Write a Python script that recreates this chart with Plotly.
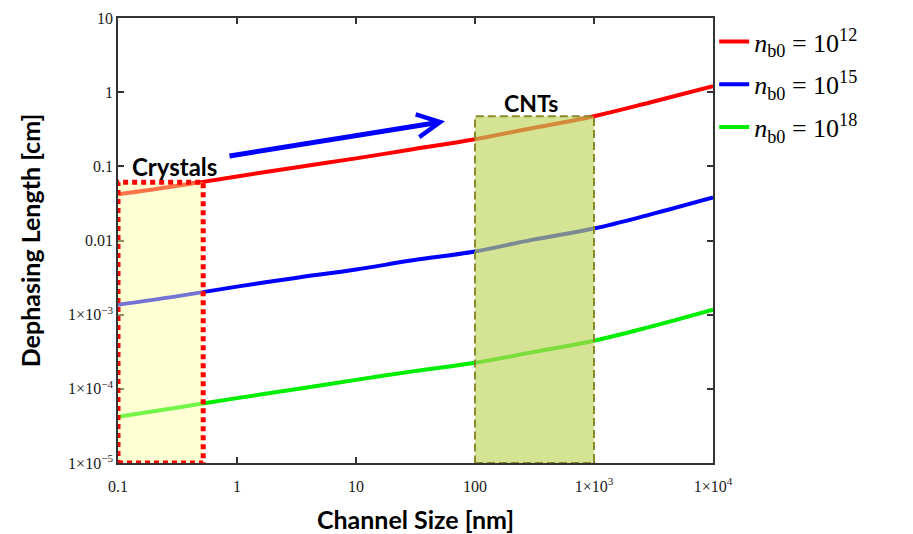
import math
import plotly.graph_objects as go

# ---- data ----
channel_nm = [0.1, 0.3, 1, 3, 10, 30, 100, 300, 1000, 3000, 10000]
len_nb12 = [0.042, 0.054, 0.073, 0.096, 0.128, 0.17, 0.232, 0.326, 0.474, 0.73, 1.2]
len_nb15 = [1.36e-3, 1.75e-3, 2.39e-3, 3.1e-3, 4.06e-3, 5.4e-3, 7.1e-3, 1.02e-2, 1.45e-2, 2.25e-2, 3.8e-2]
len_nb18 = [4.2e-5, 5.5e-5, 7.5e-5, 9.8e-5, 1.32e-4, 1.72e-4, 2.25e-4, 3.1e-4, 4.45e-4, 6.9e-4, 1.17e-3]
series_names = ["<i>n</i><sub>b0</sub> = 10<sup>12</sup>",
                "<i>n</i><sub>b0</sub> = 10<sup>15</sup>",
                "<i>n</i><sub>b0</sub> = 10<sup>18</sup>"]
series_colors = ["#ff0000", "#0000ff", "#00ee00"]

x_tickvals = [0.1, 1, 10, 100, 1000, 10000]
x_ticktext = ["0.1", "1", "10", "100", "1×10<sup>3</sup>", "1×10<sup>4</sup>"]
y_tickvals = [10, 1, 0.1, 0.01, 1e-3, 1e-4, 1e-5]
y_ticktext = ["10", "1", "0.1", "0.01", "1×10<sup>−3</sup>", "1×10<sup>−4</sup>", "1×10<sup>−5</sup>"]

crystals_x = [0.1, 0.52]
crystals_top = 0.061
cnts_x = [100, 1000]
cnts_top = 0.474
y_bottom = 1e-5

fig = go.Figure()
for vals, name, col in zip([len_nb12, len_nb15, len_nb18], series_names, series_colors):
    fig.add_trace(go.Scatter(x=channel_nm, y=vals, mode="lines", name=name,
                             legendgroup=name,
                             line=dict(color=col, width=4, shape="spline")))

# shaded regions
fig.add_shape(type="rect", xref="x", yref="y",
              x0=crystals_x[0], x1=crystals_x[1], y0=y_bottom, y1=crystals_top,
              fillcolor="rgba(255,255,160,0.45)", layer="above",
              line=dict(color="#ff0000", width=5, dash="5px,4px"))
fig.add_shape(type="rect", xref="x", yref="y",
              x0=cnts_x[0], x1=cnts_x[1], y0=y_bottom, y1=cnts_top,
              fillcolor="rgba(190,212,90,0.65)", layer="above",
              line=dict(color="#8a8a2a", width=2, dash="8px,4px"))

lg = math.log10
fig.add_annotation(x=lg(0.3), y=lg(0.1), text="<b>Crystals</b>", showarrow=False,
                   font=dict(family="Lato", size=24, color="black"))
fig.add_annotation(x=lg(295), y=lg(0.72), text="<b>CNTs</b>", showarrow=False,
                   font=dict(family="Lato", size=23, color="black"))
fig.add_annotation(x=lg(56), y=lg(0.405), ax=lg(0.84), ay=lg(0.137),
                   xref="x", yref="y", axref="x", ayref="y", text="",
                   showarrow=True, arrowhead=5, arrowsize=0.9, arrowwidth=5,
                   arrowcolor="#0000ff")

axis_common = dict(type="log", showgrid=False, zeroline=False, showline=True,
                   linecolor="#333333", linewidth=1.5, mirror="ticks",
                   ticks="inside", ticklen=6, tickcolor="#333333", tickwidth=1.5,
                   automargin=False,
                   tickfont=dict(family="Liberation Serif", size=16, color="#1a1a1a"))

fig.update_xaxes(range=[-1, 4], tickvals=x_tickvals, ticktext=x_ticktext,
                 ticklabelstandoff=8,
                 title=dict(text="<b>Channel Size [nm]</b>", standoff=18,
                            font=dict(family="Lato", size=25, color="black")),
                 **axis_common)
fig.update_yaxes(range=[-5, 1], tickvals=y_tickvals, ticktext=y_ticktext,
                 title=dict(text="<b>Dephasing Length [cm]</b>", standoff=20,
                            font=dict(family="Lato", size=25, color="black")),
                 **axis_common)

fig.update_layout(width=913, height=534,
                  margin=dict(l=118, r=200, t=18, b=71),
                  paper_bgcolor="white", plot_bgcolor="white",
                  showlegend=True,
                  legend=dict(x=1.002, y=1.0, xanchor="left", yanchor="top",
                              font=dict(family="Liberation Serif", size=26, color="black"),
                              tracegroupgap=6, bgcolor="rgba(0,0,0,0)"))

fig.write_html("out.html")
